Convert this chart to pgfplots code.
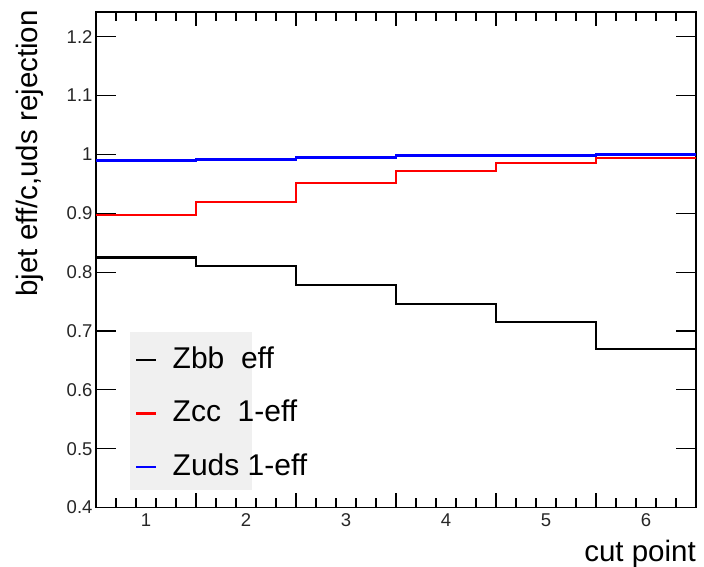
\documentclass[border=0pt]{standalone}
\usepackage{pgfplots}
\pgfplotsset{compat=1.18}
\usepackage{fontspec}
\setmainfont{Liberation Sans}

% Efficiency per cut point, bin edges at 0.5, 1.5, ..., 6.5 (last value repeated)
\pgfplotstableread{
x     bb     cc     uds
0.5   0.825  0.897  0.990
1.5   0.810  0.919  0.991
2.5   0.778  0.951  0.995
3.5   0.746  0.972  0.998
4.5   0.715  0.985  0.998
5.5   0.669  0.994  1.000
6.5   0.669  0.994  1.000
}\efftable

\begin{document}
\begin{tikzpicture}
\useasboundingbox (-96pt,-59.5pt) rectangle (608pt,507.5pt);
\begin{axis}[
  at={(0pt,0pt)}, anchor=south west,
  scale only axis, width=600pt, height=495.5pt,
  xmin=0.5, xmax=6.5, ymin=0.4, ymax=1.242,
  axis line style={line width=1.2pt},
  tick align=inside,
  % labelled bin centres carry no tick line
  major tick length=0pt, minor tick length=9pt,
  xtick={1,2,3,4,5,6},
  xticklabels={1,2,3,4,5,6},
  extra x ticks={1.5,2.5,3.5,4.5,5.5},
  extra x tick labels={},
  extra x tick style={major tick length=14pt},
  minor xtick={0.7,0.9,1.1,1.3,1.7,1.9,2.1,2.3,2.7,2.9,3.1,3.3,3.7,3.9,4.1,4.3,4.7,4.9,5.1,5.3,5.7,5.9,6.1,6.3},
  ytick=\empty,
  extra y ticks={0.4,0.5,0.6,0.7,0.8,0.9,1.0,1.1,1.2},
  extra y tick labels={0.4,0.5,0.6,0.7,0.8,0.9,1,1.1,1.2},
  extra y tick style={major tick length=20pt},
  minor ytick={0.42,0.44,0.46,0.48,0.52,0.54,0.56,0.58,0.62,0.64,0.66,0.68,0.72,0.74,0.76,0.78,0.82,0.84,0.86,0.88,0.92,0.94,0.96,0.98,1.02,1.04,1.06,1.08,1.12,1.14,1.16,1.18,1.22,1.24},
  every tick/.style={line width=1.1pt, black},
  ticklabel style={font=\fontsize{18.5}{21}\selectfont, text=black!85},
  xticklabel style={yshift=-3pt},
  /pgf/number format/assume math mode=true,
  xlabel={cut point},
  ylabel={bjet eff/c,uds rejection},
  label style={font=\fontsize{29.5}{34}\selectfont, inner sep=0pt},
  xlabel style={at={(axis description cs:1,-0.108)}, anchor=base east},
  ylabel style={at={(axis description cs:-0.0967,1.004)}, anchor=base east},
  legend cell align=left,
  legend image code/.code={\draw[#1] (0pt,0pt) -- (20pt,0pt);},
  legend style={
    at={(axis description cs:0.065,0.326)}, anchor=north west,
    draw=none, fill=none, inner sep=0pt,
    font=\fontsize{30}{34}\selectfont,
    nodes={inner sep=0pt, text height=22pt, text depth=6pt},
    row sep=25.5pt, column sep=15pt,
  },
]
% grey legend panel
\fill[gray!12] (axis description cs:0.0567,0.0353) rectangle (axis description cs:0.26,0.3548);

\addplot[const plot, black, line width=2.5pt] table[x=x, y=bb] {\efftable};
\addlegendentry{Zbb\ \ eff}
\addplot[const plot, red, line width=2.5pt] table[x=x, y=cc] {\efftable};
\addlegendentry{Zcc\ \ 1-eff}
\addplot[const plot, blue, line width=2.5pt] table[x=x, y=uds] {\efftable};
\addlegendentry{Zuds 1-eff}
\end{axis}
\end{tikzpicture}
\end{document}
